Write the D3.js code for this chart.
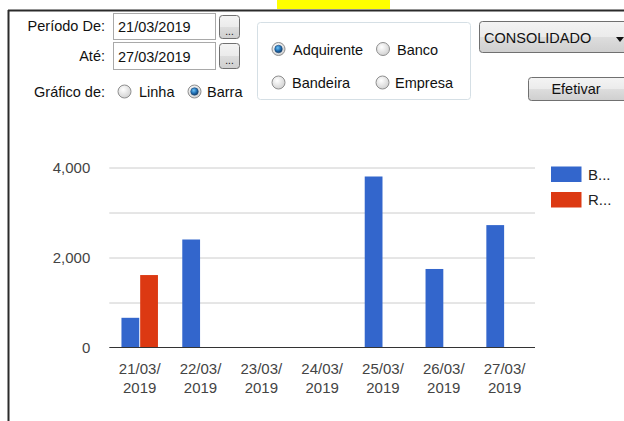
<!DOCTYPE html>
<html>
<head>
<meta charset="utf-8">
<script src="https://cdn.jsdelivr.net/npm/d3@7"></script>
<style>
  body { margin: 0; background: #fff; }
  svg { display: block; font-family: Arial, "Liberation Sans", sans-serif; }
</style>
</head>
<body>
<svg id="chart" width="624" height="421"></svg>
<script>
// chart data
var dates = ["21/03/2019", "22/03/2019", "23/03/2019", "24/03/2019", "25/03/2019", "26/03/2019", "27/03/2019"];
var seriesKeys = ["B", "R"];
var seriesLabels = ["B...", "R..."];
var serieB = [660, 2400, 0, 0, 3800, 1745, 2720];
var serieR = [1610, 0, 0, 0, 0, 0, 0];
var yTicks = [0, 2000, 4000];
var yGrid = [1000, 2000, 3000, 4000];
var colors = ["#3366cc", "#dc3912"];

var svg = d3.select("#chart");
var defs = svg.append("defs");

// gradients for the form controls
var g1 = defs.append("linearGradient").attr("id", "btnGrad").attr("x1", 0).attr("y1", 0).attr("x2", 0).attr("y2", 1);
g1.append("stop").attr("offset", "0%").attr("stop-color", "#f4f4f4");
g1.append("stop").attr("offset", "50%").attr("stop-color", "#ebebeb");
g1.append("stop").attr("offset", "51%").attr("stop-color", "#dddddd");
g1.append("stop").attr("offset", "100%").attr("stop-color", "#cfcfcf");
var g2 = defs.append("radialGradient").attr("id", "radioGrad").attr("cx", "40%").attr("cy", "35%").attr("r", "70%");
g2.append("stop").attr("offset", "0%").attr("stop-color", "#ffffff");
g2.append("stop").attr("offset", "100%").attr("stop-color", "#cfcfcf");
var g3 = defs.append("radialGradient").attr("id", "dotGrad").attr("cx", "40%").attr("cy", "35%").attr("r", "65%");
g3.append("stop").attr("offset", "0%").attr("stop-color", "#6fc3f5");
g3.append("stop").attr("offset", "60%").attr("stop-color", "#1f6fb5");
g3.append("stop").attr("offset", "100%").attr("stop-color", "#163e66");

// window frame + yellow tab
svg.append("rect").attr("x", 277).attr("y", 0).attr("width", 113).attr("height", 9).attr("fill", "#ffff00");
svg.append("line").attr("x1", 8).attr("x2", 624).attr("y1", 10.5).attr("y2", 10.5).attr("stroke", "#2b2b2b").attr("stroke-width", 2);
svg.append("line").attr("x1", 8.5).attr("x2", 8.5).attr("y1", 10).attr("y2", 421).attr("stroke", "#2b2b2b").attr("stroke-width", 2);

var form = svg.append("g").attr("font-size", 14.5).attr("fill", "#111");

function label(x, y, txt, anchor) {
  form.append("text").attr("x", x).attr("y", y).attr("text-anchor", anchor || "start").text(txt);
}
function radio(cx, cy, checked) {
  form.append("circle").attr("cx", cx).attr("cy", cy).attr("r", 6.5)
    .attr("fill", "url(#radioGrad)").attr("stroke", "#8f8f8f");
  if (checked) {
    form.append("circle").attr("cx", cx).attr("cy", cy).attr("r", 3.8)
      .attr("fill", "url(#dotGrad)").attr("stroke", "#1d4a78").attr("stroke-width", 0.6);
  }
}
function button(x, y, w, h) {
  form.append("rect").attr("x", x).attr("y", y).attr("width", w).attr("height", h).attr("rx", 3)
    .attr("fill", "url(#btnGrad)").attr("stroke", "#707070");
}

label(105, 31, "Período De:", "end");
label(105, 61, "Até:", "end");
form.append("rect").attr("x", 113.5).attr("y", 13.5).attr("width", 102).attr("height", 26).attr("fill", "#fff").attr("stroke", "#a9a9a9");
form.append("rect").attr("x", 113.5).attr("y", 42.5).attr("width", 102).attr("height", 27).attr("fill", "#fff").attr("stroke", "#a9a9a9");
label(118, 32, "21/03/2019");
label(118, 62, "27/03/2019");
button(219.5, 15.5, 20, 23);
button(219.5, 43.5, 20, 25);
form.append("text").attr("x", 229.5).attr("y", 35).attr("text-anchor", "middle").attr("font-size", 10).text("...");
form.append("text").attr("x", 229.5).attr("y", 64).attr("text-anchor", "middle").attr("font-size", 10).text("...");

label(105, 97, "Gráfico de:", "end");
radio(124.5, 91.5, false);
label(139, 97, "Linha");
radio(194.5, 91.5, true);
label(207, 97, "Barra");

// group box
form.append("rect").attr("x", 257.5).attr("y", 22.5).attr("width", 213).attr("height", 77).attr("rx", 3)
  .attr("fill", "#fff").attr("stroke", "#d5dfe5");
radio(278.5, 49, true);
label(293, 54.5, "Adquirente");
radio(383, 49, false);
label(397, 54.5, "Banco");
radio(278.5, 82.5, false);
label(292, 88, "Bandeira");
radio(382.5, 82.5, false);
label(395, 88, "Empresa");

// combobox + button
button(479.5, 21.5, 160, 31);
label(484, 43, "CONSOLIDADO");
form.append("path").attr("d", "M616,37 L624,37 L620,42 Z").attr("fill", "#111");
button(528.5, 77.5, 110, 23);
label(576, 94, "Efetivar", "middle");

// chart area
var plot = {left: 109.3, right: 535, top: 167.5, bottom: 347.5};

var x0 = d3.scaleBand().domain(dates).range([plot.left, plot.right]).paddingInner(0.4).paddingOuter(0.2);
var x1 = d3.scaleBand().domain(seriesKeys).range([0, x0.bandwidth()]).paddingInner(0.05);
var y = d3.scaleLinear().domain([0, 4000]).range([plot.bottom, plot.top]);
var color = d3.scaleOrdinal().domain(seriesKeys).range(colors);

var chart = svg.append("g");

// gridlines
chart.append("g")
  .attr("transform", "translate(" + plot.left + ",0)")
  .call(d3.axisLeft(y).tickValues(yGrid).tickSize(-(plot.right - plot.left)).tickFormat(""))
  .call(function(g) { g.select(".domain").remove(); })
  .selectAll(".tick line").attr("stroke", "#cccccc").attr("stroke-width", 1);

// y labels
chart.append("g")
  .attr("transform", "translate(" + (plot.left - 16) + ",0)")
  .call(d3.axisLeft(y).tickValues(yTicks).tickSize(0).tickFormat(d3.format(",")))
  .call(function(g) {
    g.select(".domain").remove();
    g.selectAll("text").attr("font-size", 15).attr("font-family", "Arial, 'Liberation Sans', sans-serif").attr("fill", "#444").attr("dx", 0);
  });

// bars
var rows = dates.map(function(d, i) { return {date: d, B: serieB[i], R: serieR[i]}; });
chart.append("g").selectAll("g")
  .data(rows)
  .join("g")
  .attr("transform", function(d) { return "translate(" + x0(d.date) + ",0)"; })
  .selectAll("rect")
  .data(function(d) { return seriesKeys.map(function(k) { return {key: k, value: d[k]}; }); })
  .join("rect")
  .attr("x", function(d) { return x1(d.key); })
  .attr("y", function(d) { return y(d.value); })
  .attr("width", x1.bandwidth())
  .attr("height", function(d) { return y(0) - y(d.value); })
  .attr("fill", function(d) { return color(d.key); });

// baseline
chart.append("line").attr("x1", plot.left).attr("x2", plot.right)
  .attr("y1", y(0)).attr("y2", y(0)).attr("stroke", "#333").attr("stroke-width", 1.2);

// x labels, two lines
var xAx = chart.append("g")
  .attr("transform", "translate(0," + plot.bottom + ")")
  .call(d3.axisBottom(x0).tickSize(0).tickFormat(""));
xAx.select(".domain").remove();
xAx.selectAll(".tick").append("text")
  .attr("fill", "#444").attr("font-size", 15).attr("text-anchor", "middle")
  .each(function(d) {
    var t = d3.select(this);
    t.append("tspan").attr("x", 0).attr("y", 26).text(d.slice(0, 6));
    t.append("tspan").attr("x", 0).attr("y", 45).text(d.slice(6));
  });

// legend
var legend = chart.append("g").selectAll("g")
  .data(seriesKeys)
  .join("g")
  .attr("transform", function(d, i) { return "translate(551," + (166.5 + i * 25.5) + ")"; });
legend.append("rect").attr("width", 30.5).attr("height", 15.5).attr("fill", function(d) { return color(d); });
legend.append("text").attr("x", 37).attr("y", 13).attr("font-size", 15).attr("fill", "#222")
  .text(function(d, i) { return seriesLabels[i]; });
</script>
</body>
</html>
